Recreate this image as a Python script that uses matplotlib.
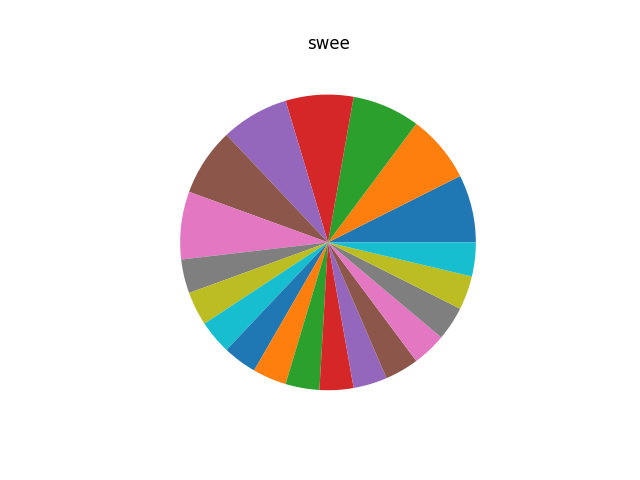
import matplotlib
matplotlib.use("Agg")
import matplotlib.pyplot as plt

values = [2, 2, 2, 2, 2, 2, 2, 1, 1, 1, 1, 1, 1, 1, 1, 1, 1, 1, 1, 1]
title = "swee"

fig, ax = plt.subplots(figsize=(6.4, 4.8), dpi=100)
ax.pie(values)
ax.set_title(title)
fig.savefig("out.png")
